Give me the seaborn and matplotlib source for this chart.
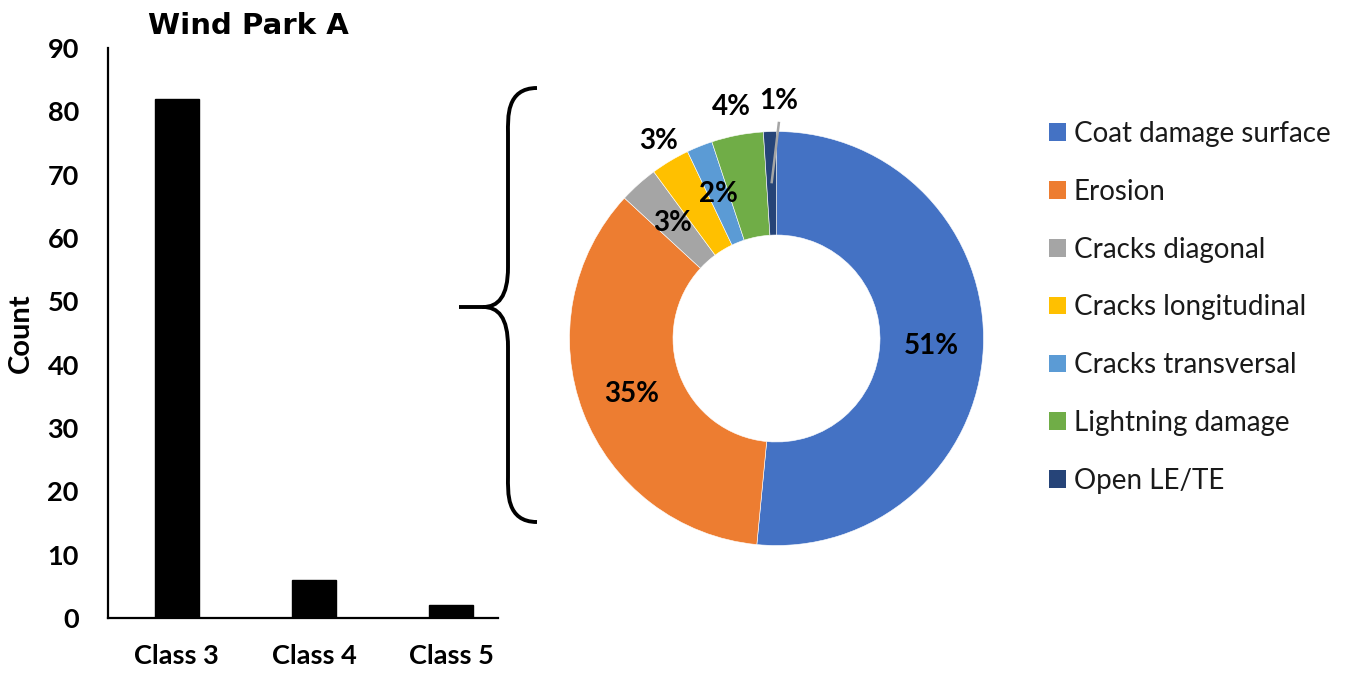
import numpy as np
import matplotlib
matplotlib.use("Agg")
import matplotlib.pyplot as plt
from matplotlib.patches import Patch, PathPatch
from matplotlib.path import Path
import seaborn as sns

# Damage class counts for the wind park
classes = ["Class 3", "Class 4", "Class 5"]
counts = [82, 6, 2]
y_ticks = [0, 10, 20, 30, 40, 50, 60, 70, 80, 90]

# Breakdown of Class 3 damage types (percent)
damage_types = ["Coat damage surface", "Erosion", "Cracks diagonal",
                "Cracks longitudinal", "Cracks transversal",
                "Lightning damage", "Open LE/TE"]
damage_pct = [51, 35, 3, 3, 2, 4, 1]

colors = ["#4472C4", "#ED7D31", "#A5A5A5", "#FFC000",
          "#5B9BD5", "#70AD47", "#264478"]
label_radius = [0.75, 0.75, 0.75, 1.11, 0.75, 1.14, 1.15]

sns.set_theme(style="white")
plt.rcParams["font.family"] = ["Lato", "DejaVu Sans"]

W, H = 1345, 678
fig = plt.figure(figsize=(W / 100, H / 100), dpi=100)
fig.patch.set_facecolor("white")


def px_box(x0, y0, x1, y1):
    return [x0 / W, 1 - y1 / H, (x1 - x0) / W, (y1 - y0) / H]


# ---- bar chart ----
ax = fig.add_axes(px_box(108, 48, 498, 618))
sns.barplot(x=classes, y=counts, color="black", width=0.32,
            saturation=1, ax=ax, edgecolor="black")
ax.set_ylim(0, 90)
ax.set_xlim(-0.5, 2.34)
ax.set_yticks(y_ticks)
ax.set_yticklabels([str(t) for t in y_ticks], fontsize=19.5, fontweight="bold")
ax.set_xticks(range(len(classes)))
ax.set_xticklabels(classes, fontsize=19.5, fontweight="bold")
ax.tick_params(axis="y", length=0, pad=21, colors="black")
ax.tick_params(axis="x", length=0, pad=19, colors="black")
ax.set_xlabel("")
ax.set_ylabel("Count", fontsize=21, fontweight="bold", color="black")
ax.yaxis.set_label_coords(-0.19, 0.5)
for s in ["top", "right"]:
    ax.spines[s].set_visible(False)
for s in ["left", "bottom"]:
    ax.spines[s].set_color("black")
    ax.spines[s].set_linewidth(1.6)
ax.set_facecolor("white")
ax.grid(False)

fig.text(248 / W, 1 - 26 / H, "Wind Park A", fontsize=21, fontweight="bold",
         family="DejaVu Sans", ha="center", va="center", color="black")

# ---- donut chart ----
cx, cy, r = 776.5, 338.5, 207
pax = fig.add_axes(px_box(cx - r, cy - r, cx + r, cy + r))
wedges, _ = pax.pie(damage_pct, colors=colors, startangle=90,
                    counterclock=False, radius=1.0,
                    wedgeprops=dict(width=0.5, edgecolor="white", linewidth=0.4))
pax.set_xlim(-1, 1)
pax.set_ylim(-1, 1)
pax.set_aspect("equal")
pax.axis("off")

for w, pct, rr in zip(wedges, damage_pct, label_radius):
    theta = np.deg2rad((w.theta1 + w.theta2) / 2)
    lx, ly = rr * np.cos(theta), rr * np.sin(theta)
    if pct == 1:
        lx, ly = 0.012, 1.147
        pax.plot([0.75 * np.cos(theta), lx], [0.75 * np.sin(theta), ly - 0.10],
                 color="#A5A5A5", lw=1.8, clip_on=False, solid_capstyle="butt")
    pax.text(lx, ly, f"{pct}%", ha="center", va="center", fontsize=20,
             fontweight="bold", color="black", clip_on=False)

# ---- curly brace linking the Class 3 bar to the breakdown ----
bax = fig.add_axes([0, 0, 1, 1], facecolor="none")
bax.set_xlim(0, W)
bax.set_ylim(H, 0)
bax.axis("off")
top, tip, bot = 88, 307, 522
xr, xv, xt, xs = 537, 508, 483, 459
verts = [
    (xr, top), (xv - 2, top), (xv, top + 30), (xv, top + 45),
    (xv, tip - 40),
    (xv, tip - 10), (xv - 10, tip), (xt, tip),
    (xs, tip),
    (xt, tip),
    (xv - 10, tip), (xv, tip + 10), (xv, tip + 40),
    (xv, bot - 45),
    (xv, bot - 30), (xv - 2, bot), (xr, bot),
]
codes = [Path.MOVETO, Path.CURVE4, Path.CURVE4, Path.CURVE4,
         Path.LINETO,
         Path.CURVE4, Path.CURVE4, Path.CURVE4,
         Path.LINETO,
         Path.MOVETO,
         Path.CURVE4, Path.CURVE4, Path.CURVE4,
         Path.LINETO,
         Path.CURVE4, Path.CURVE4, Path.CURVE4]
bax.add_patch(PathPatch(Path(verts, codes), facecolor="none",
                        edgecolor="black", lw=2.8))

# ---- legend ----
handles = [Patch(facecolor=c, edgecolor="none") for c in colors]
fig.legend(handles, damage_types, loc="upper left",
           bbox_to_anchor=(1049 / W, 1 - 121 / H), frameon=False,
           fontsize=20, handlelength=0.6, handleheight=0.6,
           handletextpad=0.3, labelspacing=1.145, borderpad=0,
           borderaxespad=0, labelcolor="#1a1a1a")

fig.savefig("out.png", dpi=100, facecolor="white")
